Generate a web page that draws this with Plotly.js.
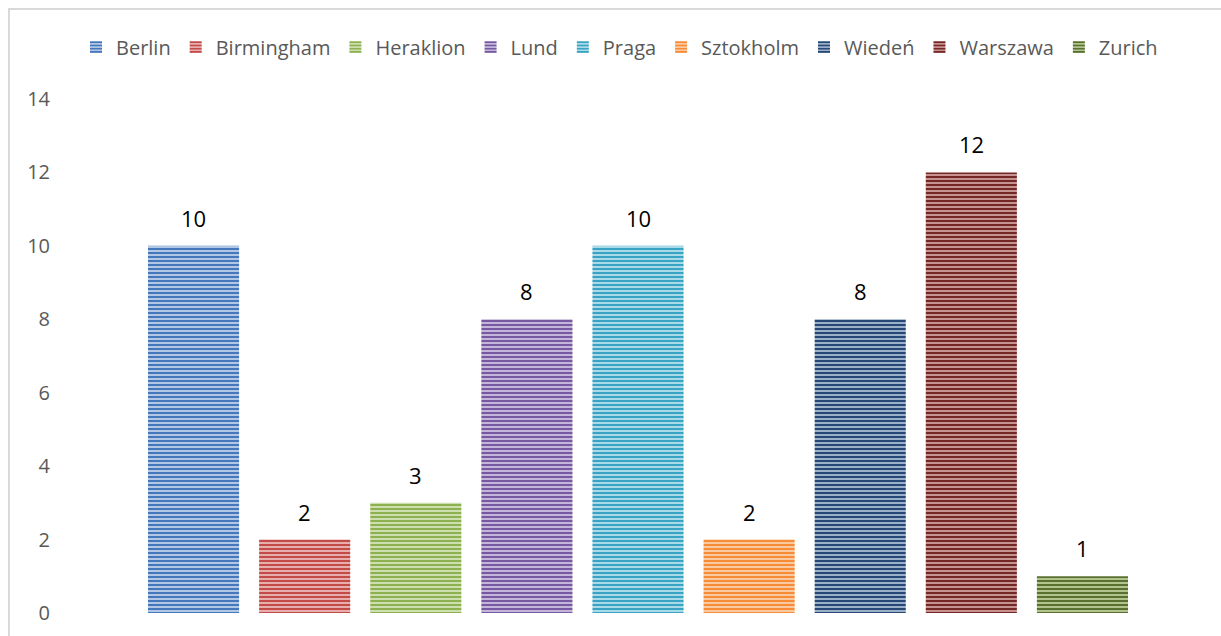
<!DOCTYPE html>
<html>
<head>
<meta charset="utf-8">
<script src="https://cdn.plot.ly/plotly-3.0.1.min.js"></script>
<style>
  html, body { margin: 0; padding: 0; background: #fff; overflow: hidden; }
  #chart { position: absolute; left: 0; top: 0; width: 1221px; height: 636px; }
  #frame { position: absolute; left: 8px; top: 8px; width: 1300px; height: 700px;
           border: 2px solid #d9d9d9; pointer-events: none; box-sizing: border-box; }
</style>
</head>
<body>
<div id="chart"></div>
<div id="frame"></div>
<script>
const cities = ["Berlin", "Birmingham", "Heraklion", "Lund", "Praga", "Sztokholm", "Wiedeń", "Warszawa", "Zurich"];
const values = [10, 2, 3, 8, 10, 2, 8, 12, 1];
const darkColors = ["#4677bb", "#c24a47", "#8db050", "#7659a0", "#38a3c2", "#f68c38", "#264875", "#732826", "#587030"];
const lightColors = ["#bcd0ea", "#ecb9b8", "#d4e4b8", "#cdbfe2", "#b6e0ec", "#fcd0aa", "#a9bad3", "#cf9e9d", "#bccc98"];
const yTicks = [0, 2, 4, 6, 8, 10, 12, 14];

const traces = cities.map((c, i) => ({
  type: "bar",
  name: c,
  x: [c],
  y: [values[i]],
  width: 0.82,
  marker: {
    color: lightColors[i],
    line: { width: 0 },
    pattern: { shape: "-", fgcolor: darkColors[i], bgcolor: lightColors[i], size: 4, solidity: 0.55 }
  },
  hoverinfo: "x+y"
}));

const annotations = cities.map((c, i) => ({
  x: c, y: values[i], xref: "x", yref: "y",
  text: String(values[i]),
  showarrow: false, yanchor: "bottom", yshift: 11,
  font: { family: "Open Sans, sans-serif", size: 22, color: "#000000" }
}));

const layout = {
  width: 1221, height: 636,
  margin: { l: 138, r: 83, t: 99, b: 23 },
  paper_bgcolor: "#ffffff",
  plot_bgcolor: "#ffffff",
  barmode: "overlay",
  showlegend: true,
  legend: {
    orientation: "h",
    x: -0.062, xanchor: "left", y: 1.101, yanchor: "middle",
    font: { family: "Open Sans, sans-serif", size: 20, color: "#595959" },
    itemwidth: 30, traceorder: "normal"
  },
  xaxis: {
    type: "category", categoryorder: "array", categoryarray: cities,
    showticklabels: false, showgrid: false, zeroline: false, showline: false, ticks: ""
  },
  yaxis: {
    range: [0, 14], tickvals: yTicks, ticktext: yTicks.map(String),
    showgrid: false, zeroline: false, showline: false, ticks: "",
    ticklabelstandoff: 87,
    tickfont: { family: "Open Sans, sans-serif", size: 20, color: "#595959" }
  },
  annotations: annotations
};

Plotly.newPlot("chart", traces, layout, { displayModeBar: false, staticPlot: true });
</script>
</body>
</html>
